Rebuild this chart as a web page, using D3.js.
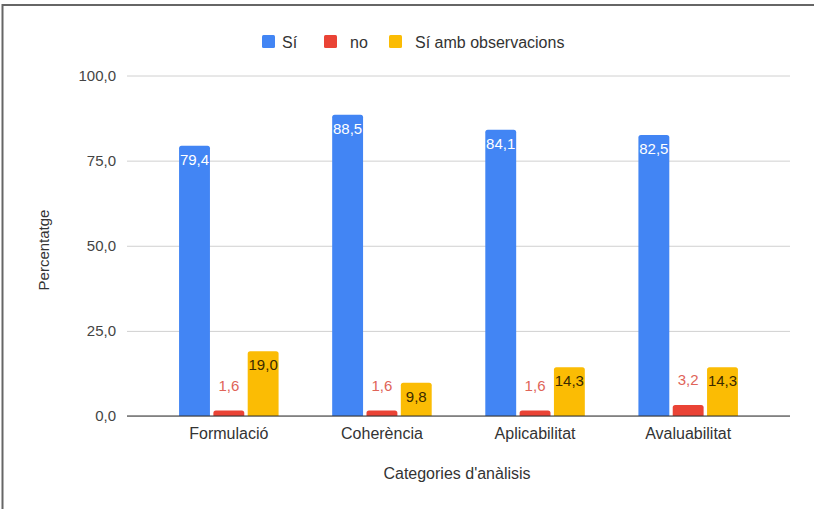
<!DOCTYPE html>
<html><head><meta charset="utf-8">
<script src="https://cdn.jsdelivr.net/npm/d3@7"></script>
<style>html,body{margin:0;padding:0;background:#fff;}svg{display:block;font-family:"Liberation Sans",Arial,sans-serif;}</style>
</head><body>
<svg id="c" width="814" height="509"></svg>
<script>
const categories = ["Formulació", "Coherència", "Aplicabilitat", "Avaluabilitat"];
const seriesNames = ["Sí", "no", "Sí amb observacions"];
const siValues = [79.4, 88.5, 84.1, 82.5];
const noValues = [1.6, 1.6, 1.6, 3.2];
const obsValues = [19.0, 9.8, 14.3, 14.3];
const yTicks = [0, 25, 50, 75, 100];
const colors = ["#4285f4", "#ea4335", "#fbbc04"];
const labelColors = ["#ffffff", "#e06458", "#3a2a00"];

const svg = d3.select("#c");
const fmt = v => d3.format(".1f")(v).replace(".", ",");

// frame
svg.append("line").attr("x1", 2).attr("x2", 814).attr("y1", 5).attr("y2", 5).attr("stroke", "#666").attr("stroke-width", 2);
svg.append("line").attr("x1", 2.5).attr("x2", 2.5).attr("y1", 4).attr("y2", 509).attr("stroke", "#666").attr("stroke-width", 2);

const left = 127, right = 790;
const y = d3.scaleLinear().domain([0, 100]).range([416, 75.5]);
const x0 = d3.scaleBand().domain(categories).range([left, right]).paddingInner(0.35).paddingOuter(0.34);
const x1 = d3.scaleBand().domain(seriesNames).range([0, x0.bandwidth()]).paddingInner(0.1);

// grid
const yAxis = d3.axisLeft(y).tickValues(yTicks).tickSize(-(right - left)).tickFormat(fmt);
const gy = svg.append("g").attr("transform", `translate(${left},0)`).call(yAxis);
gy.select(".domain").remove();
gy.selectAll(".tick line").attr("stroke", "#d0d0d0").attr("stroke-width", 1);
gy.selectAll(".tick text").attr("x", -11).attr("fill", "#444").attr("font-size", 15).attr("font-family", "Liberation Sans, Arial, sans-serif");

const data = categories.map((c, i) => ({ cat: c, vals: [siValues[i], noValues[i], obsValues[i]] }));

function topRounded(xp, yp, w, h, r) {
  r = Math.min(r, h);
  return `M${xp},${yp + h}V${yp + r}Q${xp},${yp} ${xp + r},${yp}H${xp + w - r}Q${xp + w},${yp} ${xp + w},${yp + r}V${yp + h}Z`;
}

const groups = svg.append("g").selectAll("g").data(data).join("g")
  .attr("transform", d => `translate(${x0(d.cat)},0)`);

groups.selectAll("path").data(d => d.vals.map((v, k) => ({ v, k }))).join("path")
  .attr("d", d => topRounded(x1(seriesNames[d.k]), y(d.v), x1.bandwidth(), y(0) - y(d.v), 2.5))
  .attr("fill", d => colors[d.k]);

groups.selectAll("text").data(d => d.vals.map((v, k) => ({ v, k }))).join("text")
  .attr("x", d => x1(seriesNames[d.k]) + x1.bandwidth() / 2)
  .attr("y", d => d.k === 1 ? y(d.v) - 20 : y(d.v) + 19)
  .attr("text-anchor", "middle")
  .attr("font-size", 15)
  .attr("fill", d => labelColors[d.k])
  .text(d => fmt(d.v));

// baseline
svg.append("line").attr("x1", left).attr("x2", right).attr("y1", y(0)).attr("y2", y(0)).attr("stroke", "#333").attr("stroke-width", 1.2);

// x axis labels
const xAxis = d3.axisBottom(x0).tickSize(0).tickPadding(12);
const gx = svg.append("g").attr("transform", `translate(0,${y(0)})`).call(xAxis);
gx.select(".domain").remove();
gx.selectAll(".tick text").attr("fill", "#333").attr("font-size", 16).attr("font-family", "Liberation Sans, Arial, sans-serif");

// axis titles
svg.append("text").attr("x", 457).attr("y", 479).attr("text-anchor", "middle").attr("font-size", 16).attr("fill", "#333").text("Categories d'anàlisis");
svg.append("text").attr("transform", "translate(49,250) rotate(-90)").attr("text-anchor", "middle").attr("font-size", 15).attr("fill", "#333").text("Percentatge");

// legend
const legendX = [262, 324, 389];
const lg = svg.append("g").selectAll("g").data(seriesNames).join("g")
  .attr("transform", (d, i) => `translate(${legendX[i]},35)`);
lg.append("rect").attr("width", 13).attr("height", 13).attr("rx", 1.5).attr("fill", (d, i) => colors[i]);
lg.append("text").attr("x", (d, i) => i === 0 ? 20 : 26).attr("y", 12.5).attr("font-size", 16).attr("fill", "#333").text(d => d);
</script>
</body></html>
